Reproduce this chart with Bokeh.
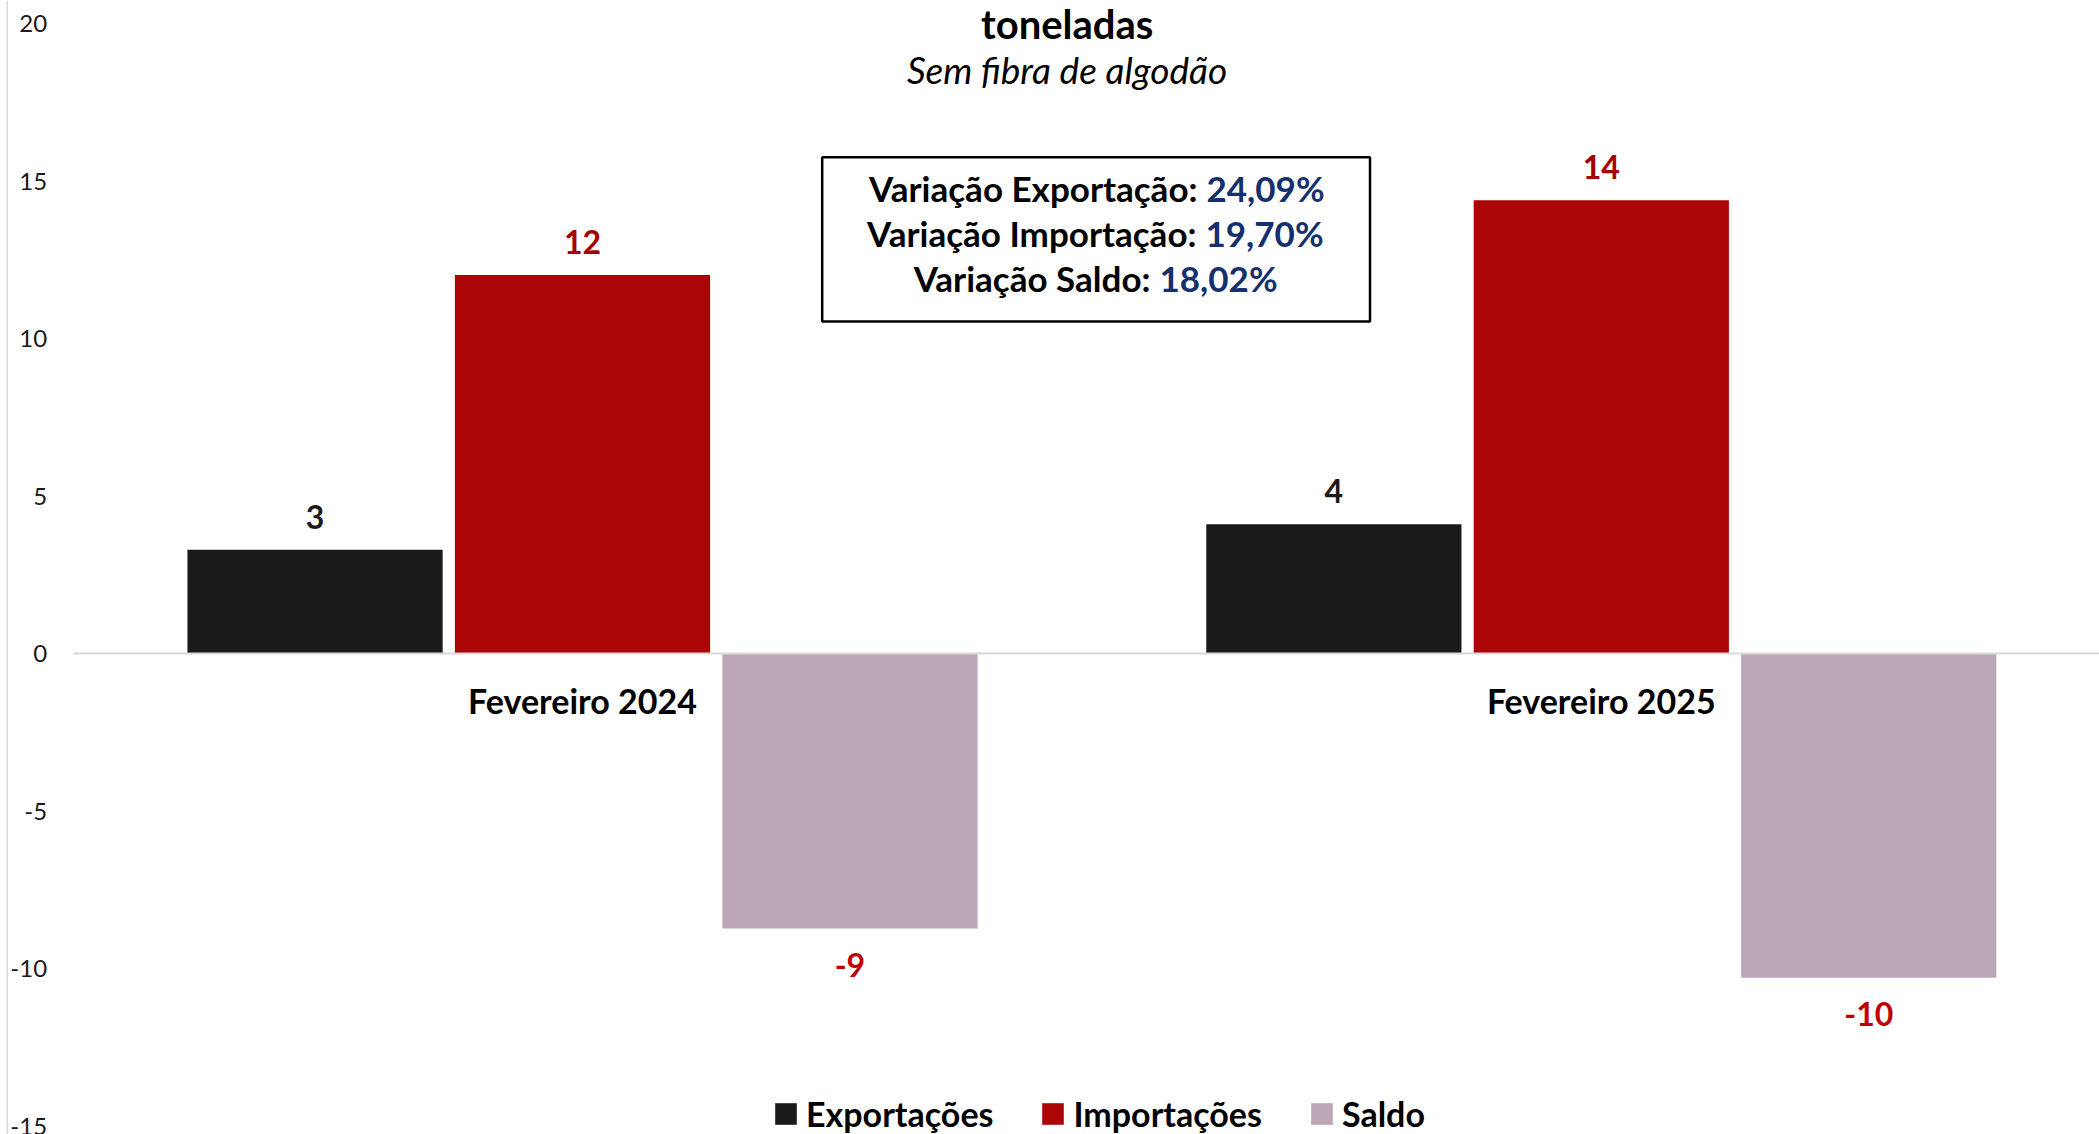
from bokeh.plotting import figure
from bokeh.models import (ColumnDataSource, Range1d, FixedTicker, Label, LabelSet,
                          BoxAnnotation, Legend, LegendItem, Span)
from bokeh.transform import dodge
from bokeh.core.properties import value
from bokeh.embed import file_html
from bokeh.resources import INLINE

# ---------------- data ----------------
CATEGORIES = ["Fevereiro 2024", "Fevereiro 2025"]
SERIES = ["Exportações", "Importações", "Saldo"]
EXPORTACOES = [3.30, 4.11]
IMPORTACOES = [12.02, 14.39]
SALDO = [-8.72, -10.28]
Y_TICKS = [-15, -10, -5, 0, 5, 10, 15, 20]
TITLE = "toneladas"
SUBTITLE = "Sem fibra de algodão"
VAR_LABELS = ["Variação Exportação:", "Variação Importação:", "Variação Saldo:"]
VAR_VALUES = ["24,09%", "19,70%", "18,02%"]

# ---------------- styles / layout ----------------
BAR_COLORS = ["#1A1A1A", "#AB0505", "#BDA5B8"]
LABEL_COLORS = ["#1A1A1A", "#A50000", "#C00000"]
NAVY = "#14306E"
FONT = "Lato"

W, H = 2099, 1134
X0_PX = 72.6              # pixel position of the start of the category axis
CAT_PX = 1018.8           # pixel width of one category
ZERO_PX = 653.3           # pixel position of y = 0
PX_PER_Y = 31.51
BAR_W = 0.2505
OFFSETS = [-0.2625, 0.0, 0.2625]


def dx(px):  # canvas pixel -> data x
    return (px - X0_PX) / CAT_PX


def dy(py):  # canvas pixel -> data y
    return (ZERO_PX - py) / PX_PER_Y


X_END = dx(W)
p = figure(width=W, height=H, output_backend="svg", toolbar_location=None,
           x_range=Range1d(dx(0), X_END), y_range=Range1d(dy(H), dy(0)),
           min_border_left=0, min_border_right=0, min_border_top=0,
           min_border_bottom=0, background_fill_color="white",
           border_fill_color="white")
p.outline_line_color = None
p.grid.visible = False

# thin chart border line on the left
p.add_layout(Span(location=dx(6.7), dimension="height", line_color="#D9D9D9",
                  line_width=1.5))

xpos = [i + 0.5 for i in range(len(CATEGORIES))]

renderers = []
for s_name, vals, off, bc, lc in zip(SERIES, [EXPORTACOES, IMPORTACOES, SALDO],
                                     OFFSETS, BAR_COLORS, LABEL_COLORS):
    src = ColumnDataSource(dict(
        x=xpos, v=vals, cat=CATEGORIES,
        txt=[f"{v:.0f}" for v in vals],
        off=[33 if v >= 0 else -36 for v in vals],
    ))
    r = p.vbar(x=dodge("x", off, range=p.x_range), top="v", bottom=0, width=BAR_W,
               source=src, fill_color=bc, line_color=None)
    renderers.append(r)
    p.add_layout(LabelSet(x=dodge("x", off, range=p.x_range), y="v", text="txt",
                          y_offset="off", source=src, text_align="center",
                          text_baseline="middle", text_font=value(FONT),
                          text_font_style="bold", text_font_size="32px",
                          text_color=lc))

# x axis at zero carrying the category names
xa = p.xaxis[0]
xa.fixed_location = 0
xa.bounds = (0, X_END)
xa.ticker = FixedTicker(ticks=xpos)
xa.major_label_overrides = {x: c for x, c in zip(xpos, CATEGORIES)}
xa.axis_line_color = "#D9D9D9"
xa.axis_line_width = 2
xa.major_tick_line_color = None
xa.minor_tick_line_color = None
xa.major_tick_out = 0
xa.major_label_standoff = 26
xa.major_label_text_font = FONT
xa.major_label_text_font_style = "bold"
xa.major_label_text_font_size = "34px"
xa.major_label_text_color = "#000000"

# y axis at the start of the category axis
ya = p.yaxis[0]
ya.fixed_location = 0
ya.ticker = FixedTicker(ticks=Y_TICKS)
ya.major_label_overrides = {t: str(t) for t in Y_TICKS}
ya.axis_line_color = None
ya.major_tick_line_color = None
ya.minor_tick_line_color = None
ya.major_tick_out = 0
ya.major_label_standoff = 26
ya.major_label_text_font = FONT
ya.major_label_text_font_size = "24px"
ya.major_label_text_color = "#1A1A1A"

# title / subtitle
p.add_layout(Label(x=dx(1066.7), y=dy(23.5), text=TITLE, text_align="center",
                   text_baseline="middle", text_font=FONT, text_font_style="bold",
                   text_font_size="40px", text_color="#000000"))
p.add_layout(Label(x=dx(1066.5), y=dy(68.5), text=SUBTITLE, text_align="center",
                   text_baseline="middle", text_font=FONT, text_font_style="italic",
                   text_font_size="37px", text_color="#000000"))

# variation box
p.add_layout(BoxAnnotation(left=dx(821.7), right=dx(1369.5), top=dy(156.7),
                           bottom=dy(321), fill_color="white", fill_alpha=1,
                           line_color="#000000", line_alpha=1, line_width=2.5))
LINE_Y = [187, 232, 277]
NAVY_X = [1206, 1205, 1159]
for lab, val, ly, nx in zip(VAR_LABELS, VAR_VALUES, LINE_Y, NAVY_X):
    p.add_layout(Label(x=dx(nx - 9), y=dy(ly), text=lab, text_align="right",
                       text_baseline="middle", text_font=FONT, text_font_style="bold",
                       text_font_size="35px", text_color="#000000"))
    p.add_layout(Label(x=dx(nx), y=dy(ly), text=val, text_align="left",
                       text_baseline="middle", text_font=FONT, text_font_style="bold",
                       text_font_size="35px", text_color=NAVY))

# legend (location measured from the frame's bottom-left corner)
legend = Legend(items=[LegendItem(label=s, renderers=[r]) for s, r in zip(SERIES, renderers)],
                orientation="horizontal", location=(772, 0),
                glyph_width=27, glyph_height=27, label_standoff=7, spacing=46,
                padding=0, margin=0, border_line_color=None,
                background_fill_alpha=0, label_text_font=FONT,
                label_text_font_style="bold", label_text_font_size="34px",
                label_text_color="#000000")
p.add_layout(legend)

open("out.html", "w").write(file_html(p, INLINE))
